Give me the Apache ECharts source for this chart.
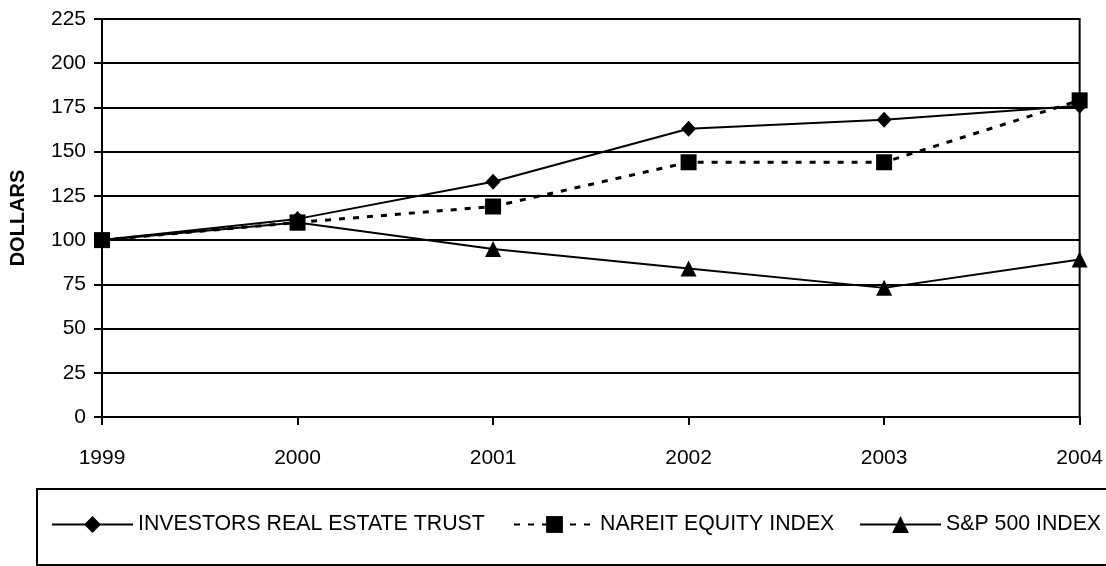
<!DOCTYPE html>
<html>
<head>
<meta charset="utf-8">
<script src="https://cdn.jsdelivr.net/npm/echarts@6/dist/echarts.min.js"></script>
<style>
html,body{margin:0;padding:0;background:#fff;}
#chart{width:1106px;height:566px;}
</style>
</head>
<body>
<div id="chart"></div>
<script>
const years = ['1999', '2000', '2001', '2002', '2003', '2004'];
const iret = [100, 112, 133, 163, 168, 176];
const nareit = [100, 110, 119, 144, 144, 179];
const sp500 = [100, 110, 95, 84, 73, 89];
const seriesNames = ['INVESTORS REAL ESTATE TRUST', 'NAREIT EQUITY INDEX', 'S&P 500 INDEX'];
const yName = 'DOLLARS';

const FONT = "'Liberation Sans', Arial, sans-serif";
const chart = echarts.init(document.getElementById('chart'));

const legendLefts = [51, 513, 859];
const legends = seriesNames.map((n, i) => ({
  left: legendLefts[i], top: 514,
  orient: 'horizontal',
  itemWidth: 81, itemHeight: 21, itemGap: 0,
  padding: 0,
  textStyle: { color: '#000', fontSize: 21.3, fontFamily: FONT },
  data: [n]
}));

chart.setOption({
  backgroundColor: '#fff',
  animation: false,
  textStyle: { fontFamily: FONT, color: '#000' },
  grid: {
    left: 97, right: 23, top: 19, bottom: 149,
    show: true, borderColor: '#000', borderWidth: 2, backgroundColor: 'transparent'
  },
  xAxis: {
    type: 'category',
    data: years,
    boundaryGap: false,
    axisLine: { show: true, lineStyle: { color: '#000', width: 2 } },
    axisTick: { show: true, inside: false, length: 8, alignWithLabel: true, lineStyle: { color: '#000', width: 2 } },
    axisLabel: { color: '#000', fontSize: 21, fontFamily: FONT, margin: 31 },
    splitLine: { show: false }
  },
  yAxis: {
    type: 'value',
    min: 0, max: 225, interval: 25,
    name: yName,
    nameLocation: 'middle',
    nameGap: 74,
    nameRotate: 90,
    nameTextStyle: { color: '#000', fontSize: 20, fontWeight: 'bold', fontFamily: FONT },
    axisLine: { show: true, lineStyle: { color: '#000', width: 2 } },
    axisTick: { show: true, inside: false, length: 8, lineStyle: { color: '#000', width: 2 } },
    axisLabel: { color: '#000', fontSize: 21, fontFamily: FONT, margin: 16 },
    splitLine: { show: true, lineStyle: { color: '#000', width: 2 } }
  },
  legend: legends,
  graphic: [{
    type: 'rect',
    shape: { x: 37, y: 489, width: 1100, height: 76 },
    style: { fill: 'none', stroke: '#000', lineWidth: 2 },
    silent: true, z: -1
  }],
  series: [
    {
      name: seriesNames[0], type: 'line', data: iret,
      symbol: 'diamond', symbolSize: [15, 16],
      itemStyle: { color: '#000' },
      lineStyle: { color: '#000', width: 2, type: 'solid' }
    },
    {
      name: seriesNames[1], type: 'line', data: nareit,
      symbol: 'rect', symbolSize: 16,
      itemStyle: { color: '#000' },
      lineStyle: { color: '#000', width: 3, type: [6, 8] }
    },
    {
      name: seriesNames[2], type: 'line', data: sp500,
      symbol: 'triangle', symbolSize: 16,
      itemStyle: { color: '#000' },
      lineStyle: { color: '#000', width: 2, type: 'solid' }
    }
  ]
});
</script>
</body>
</html>
